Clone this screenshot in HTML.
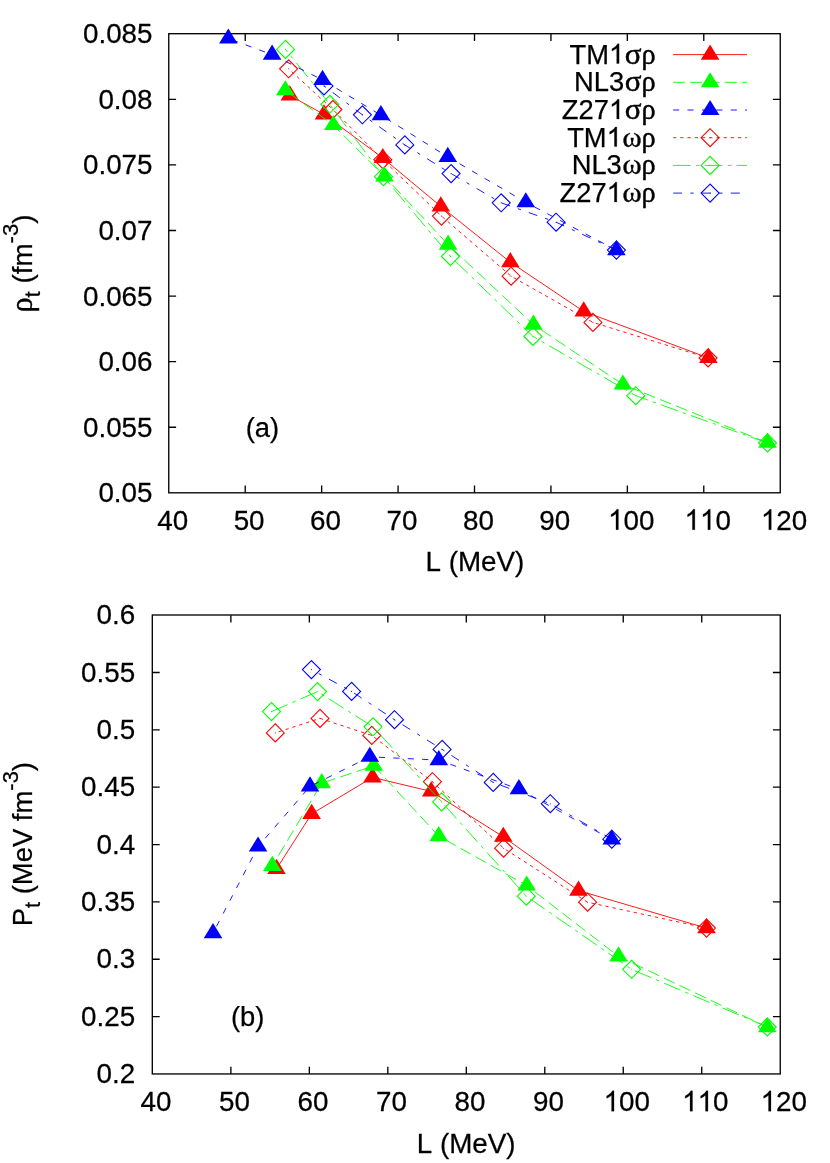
<!DOCTYPE html>
<html><head><meta charset="utf-8"><title>chart</title>
<style>
html,body{margin:0;padding:0;background:#fff;}
svg{display:block;will-change:transform;}
text{font-family:"Liberation Sans",sans-serif;font-size:27.8px;fill:#000;font-kerning:none;stroke:#000;stroke-width:0.25px;}
</style></head>
<body>
<svg width="830" height="1163" viewBox="0 0 830 1163">
<rect x="0" y="0" width="830" height="1163" fill="#fff"/>
<rect x="168.75" y="33.7" width="611.50" height="459.10" fill="none" stroke="#000" stroke-width="1.33"/>
<path d="M245.23,492.8 v-7.3 M245.23,33.8 v7.3" stroke="#000" stroke-width="1.33" fill="none"/>
<path d="M321.65,492.8 v-7.3 M321.65,33.8 v7.3" stroke="#000" stroke-width="1.33" fill="none"/>
<path d="M398.08,492.8 v-7.3 M398.08,33.8 v7.3" stroke="#000" stroke-width="1.33" fill="none"/>
<path d="M474.50,492.8 v-7.3 M474.50,33.8 v7.3" stroke="#000" stroke-width="1.33" fill="none"/>
<path d="M550.93,492.8 v-7.3 M550.93,33.8 v7.3" stroke="#000" stroke-width="1.33" fill="none"/>
<path d="M627.35,492.8 v-7.3 M627.35,33.8 v7.3" stroke="#000" stroke-width="1.33" fill="none"/>
<path d="M703.78,492.8 v-7.3 M703.78,33.8 v7.3" stroke="#000" stroke-width="1.33" fill="none"/>
<path d="M168.8,99.37 h7.3 M780.2,99.37 h-7.3" stroke="#000" stroke-width="1.33" fill="none"/>
<path d="M168.8,164.94 h7.3 M780.2,164.94 h-7.3" stroke="#000" stroke-width="1.33" fill="none"/>
<path d="M168.8,230.51 h7.3 M780.2,230.51 h-7.3" stroke="#000" stroke-width="1.33" fill="none"/>
<path d="M168.8,296.09 h7.3 M780.2,296.09 h-7.3" stroke="#000" stroke-width="1.33" fill="none"/>
<path d="M168.8,361.66 h7.3 M780.2,361.66 h-7.3" stroke="#000" stroke-width="1.33" fill="none"/>
<path d="M168.8,427.23 h7.3 M780.2,427.23 h-7.3" stroke="#000" stroke-width="1.33" fill="none"/>
<g transform="translate(0,43.30) scale(1,1.02)"><text x="152.50" y="0" text-anchor="end" >0.085</text></g>
<g transform="translate(0,108.87) scale(1,1.02)"><text x="152.50" y="0" text-anchor="end" >0.08</text></g>
<g transform="translate(0,174.44) scale(1,1.02)"><text x="152.50" y="0" text-anchor="end" >0.075</text></g>
<g transform="translate(0,240.01) scale(1,1.02)"><text x="152.50" y="0" text-anchor="end" >0.07</text></g>
<g transform="translate(0,305.59) scale(1,1.02)"><text x="152.50" y="0" text-anchor="end" >0.065</text></g>
<g transform="translate(0,371.16) scale(1,1.02)"><text x="152.50" y="0" text-anchor="end" >0.06</text></g>
<g transform="translate(0,436.73) scale(1,1.02)"><text x="152.50" y="0" text-anchor="end" >0.055</text></g>
<g transform="translate(0,502.30) scale(1,1.02)"><text x="152.50" y="0" text-anchor="end" >0.05</text></g>
<g transform="translate(0,529.70) scale(1,1.02)"><text x="172.70" y="0" text-anchor="middle" >40</text></g>
<g transform="translate(0,529.70) scale(1,1.02)"><text x="249.13" y="0" text-anchor="middle" >50</text></g>
<g transform="translate(0,529.70) scale(1,1.02)"><text x="325.55" y="0" text-anchor="middle" >60</text></g>
<g transform="translate(0,529.70) scale(1,1.02)"><text x="401.98" y="0" text-anchor="middle" >70</text></g>
<g transform="translate(0,529.70) scale(1,1.02)"><text x="478.40" y="0" text-anchor="middle" >80</text></g>
<g transform="translate(0,529.70) scale(1,1.02)"><text x="554.83" y="0" text-anchor="middle" >90</text></g>
<g transform="translate(0,529.70) scale(1,1.02)"><path transform="translate(608.06,0) scale(0.01357,-0.01357)" d="M763 0H583V1147Q518 1085 412.5 1023Q307 961 223 930V1104Q374 1175 487 1276Q600 1377 647 1472H763Z" fill="#000" stroke="#000" stroke-width="0.25" vector-effect="non-scaling-stroke"/><text x="623.52" y="0">00</text></g>
<g transform="translate(0,529.70) scale(1,1.02)"><path transform="translate(684.49,0) scale(0.01357,-0.01357)" d="M763 0H583V1147Q518 1085 412.5 1023Q307 961 223 930V1104Q374 1175 487 1276Q600 1377 647 1472H763Z" fill="#000" stroke="#000" stroke-width="0.25" vector-effect="non-scaling-stroke"/><path transform="translate(699.95,0) scale(0.01357,-0.01357)" d="M763 0H583V1147Q518 1085 412.5 1023Q307 961 223 930V1104Q374 1175 487 1276Q600 1377 647 1472H763Z" fill="#000" stroke="#000" stroke-width="0.25" vector-effect="non-scaling-stroke"/><text x="715.40" y="0">0</text></g>
<g transform="translate(0,529.70) scale(1,1.02)"><path transform="translate(760.91,0) scale(0.01357,-0.01357)" d="M763 0H583V1147Q518 1085 412.5 1023Q307 961 223 930V1104Q374 1175 487 1276Q600 1377 647 1472H763Z" fill="#000" stroke="#000" stroke-width="0.25" vector-effect="non-scaling-stroke"/><text x="776.37" y="0">20</text></g>
<g transform="translate(0,571.00) scale(1,1.02)"><text x="474.90" y="0" text-anchor="middle" >L (MeV)</text></g>
<g transform="translate(0,436.70) scale(1,1.0)" style="font-size:27.35px"><text x="245.70" y="0" text-anchor="start" style="font-size:27.35px" >(a)</text></g>
<text transform="translate(32.4,312.6) rotate(-90) scale(1,1.02)" x="0" y="0"><tspan style="font-family:'Liberation Serif',serif;font-size:30.3px;stroke-width:0.45px">ρ</tspan><tspan dy="7" font-size="22.2">t</tspan><tspan dy="-7"> (fm</tspan><tspan dy="-14.5" font-size="22.2">-3</tspan><tspan dy="14.5">)</tspan></text>
<g transform="translate(0,63.50) scale(1,1.0)" style="font-size:27.35px"><text x="569.44" y="0" style="font-size:27.35px">TM</text><path transform="translate(608.93,0) scale(0.01335,-0.01335)" d="M763 0H583V1147Q518 1085 412.5 1023Q307 961 223 930V1104Q374 1175 487 1276Q600 1377 647 1472H763Z" fill="#000" stroke="#000" stroke-width="0.25" vector-effect="non-scaling-stroke"/></g>
<text style="font-family:'Liberation Serif',serif;font-size:30.3px;stroke:#000;stroke-width:0.45px" transform="translate(624.74,63.50) scale(1.026,1)">σ</text>
<text style="font-family:'Liberation Serif',serif;font-size:30.3px;stroke:#000;stroke-width:0.45px" transform="translate(641.50,63.50) scale(0.935,1)">ρ</text>
<polyline points="673.20,54.60 747.00,54.60" fill="none" stroke="#ff0000" stroke-width="0.9"/>
<path d="M710.10,44.52 L700.80,59.65 L719.40,59.65Z" fill="#ff0000"/>
<g transform="translate(0,91.20) scale(1,1.0)" style="font-size:27.35px"><text x="624.14" y="0" text-anchor="end" style="font-size:27.35px" >NL3</text></g>
<text style="font-family:'Liberation Serif',serif;font-size:30.3px;stroke:#000;stroke-width:0.45px" transform="translate(624.74,91.20) scale(1.026,1)">σ</text>
<text style="font-family:'Liberation Serif',serif;font-size:30.3px;stroke:#000;stroke-width:0.45px" transform="translate(641.50,91.20) scale(0.935,1)">ρ</text>
<polyline points="673.20,82.30 747.00,82.30" fill="none" stroke="#00ff00" stroke-width="0.9" stroke-dasharray="11.94,5.37" stroke-dashoffset="0.20"/>
<path d="M710.10,72.22 L700.80,87.35 L719.40,87.35Z" fill="#00ff00"/>
<g transform="translate(0,118.90) scale(1,1.0)" style="font-size:27.35px"><text x="561.81" y="0" style="font-size:27.35px">Z27</text><path transform="translate(608.93,0) scale(0.01335,-0.01335)" d="M763 0H583V1147Q518 1085 412.5 1023Q307 961 223 930V1104Q374 1175 487 1276Q600 1377 647 1472H763Z" fill="#000" stroke="#000" stroke-width="0.25" vector-effect="non-scaling-stroke"/></g>
<text style="font-family:'Liberation Serif',serif;font-size:30.3px;stroke:#000;stroke-width:0.45px" transform="translate(624.74,118.90) scale(1.026,1)">σ</text>
<text style="font-family:'Liberation Serif',serif;font-size:30.3px;stroke:#000;stroke-width:0.45px" transform="translate(641.50,118.90) scale(0.935,1)">ρ</text>
<polyline points="673.20,110.00 747.00,110.00" fill="none" stroke="#0000ff" stroke-width="0.9" stroke-dasharray="6.17,8.26" stroke-dashoffset="0.20"/>
<path d="M710.10,99.92 L700.80,115.05 L719.40,115.05Z" fill="#0000ff"/>
<g transform="translate(0,146.60) scale(1,1.0)" style="font-size:27.35px"><text x="567.13" y="0" style="font-size:27.35px">TM</text><path transform="translate(606.62,0) scale(0.01335,-0.01335)" d="M763 0H583V1147Q518 1085 412.5 1023Q307 961 223 930V1104Q374 1175 487 1276Q600 1377 647 1472H763Z" fill="#000" stroke="#000" stroke-width="0.25" vector-effect="non-scaling-stroke"/></g>
<text style="font-family:'Liberation Serif',serif;font-size:30.3px;stroke:#000;stroke-width:0.45px" transform="translate(622.43,146.60) scale(0.956,1)">ω</text>
<text style="font-family:'Liberation Serif',serif;font-size:30.3px;stroke:#000;stroke-width:0.45px" transform="translate(641.50,146.60) scale(0.935,1)">ρ</text>
<polyline points="673.20,137.70 747.00,137.70" fill="none" stroke="#ff0000" stroke-width="0.9" stroke-dasharray="3.29,3.93" stroke-dashoffset="0.20"/>
<path d="M710.10,128.70 L701.10,137.70 L710.10,146.70 L719.10,137.70Z" fill="none" stroke="#ff0000" stroke-width="1.1"/><circle cx="710.10" cy="137.70" r="0.55" fill="#ff0000"/>
<g transform="translate(0,174.30) scale(1,1.0)" style="font-size:27.35px"><text x="621.83" y="0" text-anchor="end" style="font-size:27.35px" >NL3</text></g>
<text style="font-family:'Liberation Serif',serif;font-size:30.3px;stroke:#000;stroke-width:0.45px" transform="translate(622.43,174.30) scale(0.956,1)">ω</text>
<text style="font-family:'Liberation Serif',serif;font-size:30.3px;stroke:#000;stroke-width:0.45px" transform="translate(641.50,174.30) scale(0.935,1)">ρ</text>
<polyline points="673.20,165.40 747.00,165.40" fill="none" stroke="#00ff00" stroke-width="0.9" stroke-dasharray="17.72,5.37,3.29,5.37" stroke-dashoffset="0.20"/>
<path d="M710.10,156.40 L701.10,165.40 L710.10,174.40 L719.10,165.40Z" fill="none" stroke="#00ff00" stroke-width="1.1"/><circle cx="710.10" cy="165.40" r="0.55" fill="#00ff00"/>
<g transform="translate(0,202.00) scale(1,1.0)" style="font-size:27.35px"><text x="559.50" y="0" style="font-size:27.35px">Z27</text><path transform="translate(606.62,0) scale(0.01335,-0.01335)" d="M763 0H583V1147Q518 1085 412.5 1023Q307 961 223 930V1104Q374 1175 487 1276Q600 1377 647 1472H763Z" fill="#000" stroke="#000" stroke-width="0.25" vector-effect="non-scaling-stroke"/></g>
<text style="font-family:'Liberation Serif',serif;font-size:30.3px;stroke:#000;stroke-width:0.45px" transform="translate(622.43,202.00) scale(0.956,1)">ω</text>
<text style="font-family:'Liberation Serif',serif;font-size:30.3px;stroke:#000;stroke-width:0.45px" transform="translate(641.50,202.00) scale(0.935,1)">ρ</text>
<polyline points="673.20,193.10 747.00,193.10" fill="none" stroke="#0000ff" stroke-width="0.9" stroke-dasharray="9.06,8.26,3.29,8.26" stroke-dashoffset="0.20"/>
<path d="M710.10,184.10 L701.10,193.10 L710.10,202.10 L719.10,193.10Z" fill="none" stroke="#0000ff" stroke-width="1.1"/><circle cx="710.10" cy="193.10" r="0.55" fill="#0000ff"/>
<polyline points="289.80,95.40 324.00,114.40 382.80,158.00 440.80,206.40 510.30,262.20 583.70,311.40 708.40,357.90" fill="none" stroke="#ff0000" stroke-width="0.9"/>
<path d="M289.80,85.32 L280.50,100.45 L299.10,100.45Z" fill="#ff0000"/>
<path d="M324.00,104.32 L314.70,119.45 L333.30,119.45Z" fill="#ff0000"/>
<path d="M382.80,147.92 L373.50,163.05 L392.10,163.05Z" fill="#ff0000"/>
<path d="M440.80,196.32 L431.50,211.45 L450.10,211.45Z" fill="#ff0000"/>
<path d="M510.30,252.12 L501.00,267.25 L519.60,267.25Z" fill="#ff0000"/>
<path d="M583.70,301.32 L574.40,316.45 L593.00,316.45Z" fill="#ff0000"/>
<path d="M708.40,347.82 L699.10,362.95 L717.70,362.95Z" fill="#ff0000"/>
<polyline points="288.60,68.80 332.90,109.50 382.80,159.70 441.50,216.10 511.10,276.20 592.90,322.40 708.10,358.00" fill="none" stroke="#ff0000" stroke-width="0.9" stroke-dasharray="3.29,3.93" stroke-dashoffset="3.12"/>
<path d="M288.60,59.80 L279.60,68.80 L288.60,77.80 L297.60,68.80Z" fill="none" stroke="#ff0000" stroke-width="1.1"/><circle cx="288.60" cy="68.80" r="0.55" fill="#ff0000"/>
<path d="M332.90,100.50 L323.90,109.50 L332.90,118.50 L341.90,109.50Z" fill="none" stroke="#ff0000" stroke-width="1.1"/><circle cx="332.90" cy="109.50" r="0.55" fill="#ff0000"/>
<path d="M382.80,150.70 L373.80,159.70 L382.80,168.70 L391.80,159.70Z" fill="none" stroke="#ff0000" stroke-width="1.1"/><circle cx="382.80" cy="159.70" r="0.55" fill="#ff0000"/>
<path d="M441.50,207.10 L432.50,216.10 L441.50,225.10 L450.50,216.10Z" fill="none" stroke="#ff0000" stroke-width="1.1"/><circle cx="441.50" cy="216.10" r="0.55" fill="#ff0000"/>
<path d="M511.10,267.20 L502.10,276.20 L511.10,285.20 L520.10,276.20Z" fill="none" stroke="#ff0000" stroke-width="1.1"/><circle cx="511.10" cy="276.20" r="0.55" fill="#ff0000"/>
<path d="M592.90,313.40 L583.90,322.40 L592.90,331.40 L601.90,322.40Z" fill="none" stroke="#ff0000" stroke-width="1.1"/><circle cx="592.90" cy="322.40" r="0.55" fill="#ff0000"/>
<path d="M708.10,349.00 L699.10,358.00 L708.10,367.00 L717.10,358.00Z" fill="none" stroke="#ff0000" stroke-width="1.1"/><circle cx="708.10" cy="358.00" r="0.55" fill="#ff0000"/>
<polyline points="285.30,90.30 333.30,125.00 384.50,176.40 448.10,244.70 533.40,324.60 622.90,384.50 767.50,442.70" fill="none" stroke="#00ff00" stroke-width="0.9" stroke-dasharray="11.94,5.37" stroke-dashoffset="12.22"/>
<path d="M285.30,80.22 L276.00,95.35 L294.60,95.35Z" fill="#00ff00"/>
<path d="M333.30,114.92 L324.00,130.05 L342.60,130.05Z" fill="#00ff00"/>
<path d="M384.50,166.32 L375.20,181.45 L393.80,181.45Z" fill="#00ff00"/>
<path d="M448.10,234.62 L438.80,249.75 L457.40,249.75Z" fill="#00ff00"/>
<path d="M533.40,314.52 L524.10,329.65 L542.70,329.65Z" fill="#00ff00"/>
<path d="M622.90,374.42 L613.60,389.55 L632.20,389.55Z" fill="#00ff00"/>
<path d="M767.50,432.62 L758.20,447.75 L776.80,447.75Z" fill="#00ff00"/>
<polyline points="285.50,49.40 329.80,104.30 383.50,176.70 450.40,256.40 532.90,336.40 635.80,395.70 767.50,443.00" fill="none" stroke="#00ff00" stroke-width="0.9" stroke-dasharray="17.72,5.37,3.29,5.37" stroke-dashoffset="14.44"/>
<path d="M285.50,40.40 L276.50,49.40 L285.50,58.40 L294.50,49.40Z" fill="none" stroke="#00ff00" stroke-width="1.1"/><circle cx="285.50" cy="49.40" r="0.55" fill="#00ff00"/>
<path d="M329.80,95.30 L320.80,104.30 L329.80,113.30 L338.80,104.30Z" fill="none" stroke="#00ff00" stroke-width="1.1"/><circle cx="329.80" cy="104.30" r="0.55" fill="#00ff00"/>
<path d="M383.50,167.70 L374.50,176.70 L383.50,185.70 L392.50,176.70Z" fill="none" stroke="#00ff00" stroke-width="1.1"/><circle cx="383.50" cy="176.70" r="0.55" fill="#00ff00"/>
<path d="M450.40,247.40 L441.40,256.40 L450.40,265.40 L459.40,256.40Z" fill="none" stroke="#00ff00" stroke-width="1.1"/><circle cx="450.40" cy="256.40" r="0.55" fill="#00ff00"/>
<path d="M532.90,327.40 L523.90,336.40 L532.90,345.40 L541.90,336.40Z" fill="none" stroke="#00ff00" stroke-width="1.1"/><circle cx="532.90" cy="336.40" r="0.55" fill="#00ff00"/>
<path d="M635.80,386.70 L626.80,395.70 L635.80,404.70 L644.80,395.70Z" fill="none" stroke="#00ff00" stroke-width="1.1"/><circle cx="635.80" cy="395.70" r="0.55" fill="#00ff00"/>
<path d="M767.50,434.00 L758.50,443.00 L767.50,452.00 L776.50,443.00Z" fill="none" stroke="#00ff00" stroke-width="1.1"/><circle cx="767.50" cy="443.00" r="0.55" fill="#00ff00"/>
<polyline points="228.30,38.50 272.10,54.60 322.50,79.90 380.90,115.20 447.80,156.90 525.80,202.30 616.40,250.20" fill="none" stroke="#0000ff" stroke-width="0.9" stroke-dasharray="6.17,8.26" stroke-dashoffset="10.41"/>
<path d="M228.30,28.42 L219.00,43.55 L237.60,43.55Z" fill="#0000ff"/>
<path d="M272.10,44.52 L262.80,59.65 L281.40,59.65Z" fill="#0000ff"/>
<path d="M322.50,69.82 L313.20,84.95 L331.80,84.95Z" fill="#0000ff"/>
<path d="M380.90,105.12 L371.60,120.25 L390.20,120.25Z" fill="#0000ff"/>
<path d="M447.80,146.82 L438.50,161.95 L457.10,161.95Z" fill="#0000ff"/>
<path d="M525.80,192.22 L516.50,207.35 L535.10,207.35Z" fill="#0000ff"/>
<path d="M616.40,240.12 L607.10,255.25 L625.70,255.25Z" fill="#0000ff"/>
<polyline points="324.00,85.90 362.40,114.80 404.80,144.90 451.10,173.60 501.20,202.80 556.10,222.20 616.40,250.10" fill="none" stroke="#0000ff" stroke-width="0.9" stroke-dasharray="9.06,8.26,3.29,8.26" stroke-dashoffset="18.09"/>
<path d="M324.00,76.90 L315.00,85.90 L324.00,94.90 L333.00,85.90Z" fill="none" stroke="#0000ff" stroke-width="1.1"/><circle cx="324.00" cy="85.90" r="0.55" fill="#0000ff"/>
<path d="M362.40,105.80 L353.40,114.80 L362.40,123.80 L371.40,114.80Z" fill="none" stroke="#0000ff" stroke-width="1.1"/><circle cx="362.40" cy="114.80" r="0.55" fill="#0000ff"/>
<path d="M404.80,135.90 L395.80,144.90 L404.80,153.90 L413.80,144.90Z" fill="none" stroke="#0000ff" stroke-width="1.1"/><circle cx="404.80" cy="144.90" r="0.55" fill="#0000ff"/>
<path d="M451.10,164.60 L442.10,173.60 L451.10,182.60 L460.10,173.60Z" fill="none" stroke="#0000ff" stroke-width="1.1"/><circle cx="451.10" cy="173.60" r="0.55" fill="#0000ff"/>
<path d="M501.20,193.80 L492.20,202.80 L501.20,211.80 L510.20,202.80Z" fill="none" stroke="#0000ff" stroke-width="1.1"/><circle cx="501.20" cy="202.80" r="0.55" fill="#0000ff"/>
<path d="M556.10,213.20 L547.10,222.20 L556.10,231.20 L565.10,222.20Z" fill="none" stroke="#0000ff" stroke-width="1.1"/><circle cx="556.10" cy="222.20" r="0.55" fill="#0000ff"/>
<path d="M616.40,241.10 L607.40,250.10 L616.40,259.10 L625.40,250.10Z" fill="none" stroke="#0000ff" stroke-width="1.1"/><circle cx="616.40" cy="250.10" r="0.55" fill="#0000ff"/>
<rect x="152.3" y="615.0" width="627.95" height="458.95" fill="none" stroke="#000" stroke-width="1.33"/>
<path d="M230.88,1073.95 v-7.3 M230.88,615.15 v7.3" stroke="#000" stroke-width="1.33" fill="none"/>
<path d="M309.35,1073.95 v-7.3 M309.35,615.15 v7.3" stroke="#000" stroke-width="1.33" fill="none"/>
<path d="M387.83,1073.95 v-7.3 M387.83,615.15 v7.3" stroke="#000" stroke-width="1.33" fill="none"/>
<path d="M466.30,1073.95 v-7.3 M466.30,615.15 v7.3" stroke="#000" stroke-width="1.33" fill="none"/>
<path d="M544.78,1073.95 v-7.3 M544.78,615.15 v7.3" stroke="#000" stroke-width="1.33" fill="none"/>
<path d="M623.25,1073.95 v-7.3 M623.25,615.15 v7.3" stroke="#000" stroke-width="1.33" fill="none"/>
<path d="M701.73,1073.95 v-7.3 M701.73,615.15 v7.3" stroke="#000" stroke-width="1.33" fill="none"/>
<path d="M152.4,672.50 h7.3 M780.2,672.50 h-7.3" stroke="#000" stroke-width="1.33" fill="none"/>
<path d="M152.4,729.85 h7.3 M780.2,729.85 h-7.3" stroke="#000" stroke-width="1.33" fill="none"/>
<path d="M152.4,787.20 h7.3 M780.2,787.20 h-7.3" stroke="#000" stroke-width="1.33" fill="none"/>
<path d="M152.4,844.55 h7.3 M780.2,844.55 h-7.3" stroke="#000" stroke-width="1.33" fill="none"/>
<path d="M152.4,901.90 h7.3 M780.2,901.90 h-7.3" stroke="#000" stroke-width="1.33" fill="none"/>
<path d="M152.4,959.25 h7.3 M780.2,959.25 h-7.3" stroke="#000" stroke-width="1.33" fill="none"/>
<path d="M152.4,1016.60 h7.3 M780.2,1016.60 h-7.3" stroke="#000" stroke-width="1.33" fill="none"/>
<g transform="translate(0,624.15) scale(1,1.02)"><text x="135.10" y="0" text-anchor="end" >0.6</text></g>
<g transform="translate(0,681.50) scale(1,1.02)"><text x="135.10" y="0" text-anchor="end" >0.55</text></g>
<g transform="translate(0,738.85) scale(1,1.02)"><text x="135.10" y="0" text-anchor="end" >0.5</text></g>
<g transform="translate(0,796.20) scale(1,1.02)"><text x="135.10" y="0" text-anchor="end" >0.45</text></g>
<g transform="translate(0,853.55) scale(1,1.02)"><text x="135.10" y="0" text-anchor="end" >0.4</text></g>
<g transform="translate(0,910.90) scale(1,1.02)"><text x="135.10" y="0" text-anchor="end" >0.35</text></g>
<g transform="translate(0,968.25) scale(1,1.02)"><text x="135.10" y="0" text-anchor="end" >0.3</text></g>
<g transform="translate(0,1025.60) scale(1,1.02)"><text x="135.10" y="0" text-anchor="end" >0.25</text></g>
<g transform="translate(0,1082.95) scale(1,1.02)"><text x="135.10" y="0" text-anchor="end" >0.2</text></g>
<g transform="translate(0,1111.20) scale(1,1.02)"><text x="156.00" y="0" text-anchor="middle" >40</text></g>
<g transform="translate(0,1111.20) scale(1,1.02)"><text x="234.47" y="0" text-anchor="middle" >50</text></g>
<g transform="translate(0,1111.20) scale(1,1.02)"><text x="312.95" y="0" text-anchor="middle" >60</text></g>
<g transform="translate(0,1111.20) scale(1,1.02)"><text x="391.43" y="0" text-anchor="middle" >70</text></g>
<g transform="translate(0,1111.20) scale(1,1.02)"><text x="469.90" y="0" text-anchor="middle" >80</text></g>
<g transform="translate(0,1111.20) scale(1,1.02)"><text x="548.38" y="0" text-anchor="middle" >90</text></g>
<g transform="translate(0,1111.20) scale(1,1.02)"><path transform="translate(603.66,0) scale(0.01357,-0.01357)" d="M763 0H583V1147Q518 1085 412.5 1023Q307 961 223 930V1104Q374 1175 487 1276Q600 1377 647 1472H763Z" fill="#000" stroke="#000" stroke-width="0.25" vector-effect="non-scaling-stroke"/><text x="619.12" y="0">00</text></g>
<g transform="translate(0,1111.20) scale(1,1.02)"><path transform="translate(682.14,0) scale(0.01357,-0.01357)" d="M763 0H583V1147Q518 1085 412.5 1023Q307 961 223 930V1104Q374 1175 487 1276Q600 1377 647 1472H763Z" fill="#000" stroke="#000" stroke-width="0.25" vector-effect="non-scaling-stroke"/><path transform="translate(697.60,0) scale(0.01357,-0.01357)" d="M763 0H583V1147Q518 1085 412.5 1023Q307 961 223 930V1104Q374 1175 487 1276Q600 1377 647 1472H763Z" fill="#000" stroke="#000" stroke-width="0.25" vector-effect="non-scaling-stroke"/><text x="713.05" y="0">0</text></g>
<g transform="translate(0,1111.20) scale(1,1.02)"><path transform="translate(760.61,0) scale(0.01357,-0.01357)" d="M763 0H583V1147Q518 1085 412.5 1023Q307 961 223 930V1104Q374 1175 487 1276Q600 1377 647 1472H763Z" fill="#000" stroke="#000" stroke-width="0.25" vector-effect="non-scaling-stroke"/><text x="776.07" y="0">20</text></g>
<g transform="translate(0,1152.50) scale(1,1.02)"><text x="466.20" y="0" text-anchor="middle" >L (MeV)</text></g>
<g transform="translate(0,1025.90) scale(1,1.0)" style="font-size:27.35px"><text x="230.90" y="0" text-anchor="start" style="font-size:27.35px" >(b)</text></g>
<text transform="translate(32.4,926.3) rotate(-90) scale(0.987,1.02)" x="0" y="0">P<tspan dy="7" font-size="22.2">t</tspan><tspan dy="-7"> (MeV fm</tspan><tspan dy="-14.5" font-size="22.2">-3</tspan><tspan dy="14.5">)</tspan></text>
<polyline points="276.50,868.90 311.60,813.90 372.50,777.40 431.20,791.40 503.30,836.80 578.50,890.60 706.50,928.10" fill="none" stroke="#ff0000" stroke-width="0.9"/>
<path d="M276.50,858.82 L267.20,873.95 L285.80,873.95Z" fill="#ff0000"/>
<path d="M311.60,803.82 L302.30,818.95 L320.90,818.95Z" fill="#ff0000"/>
<path d="M372.50,767.32 L363.20,782.45 L381.80,782.45Z" fill="#ff0000"/>
<path d="M431.20,781.32 L421.90,796.45 L440.50,796.45Z" fill="#ff0000"/>
<path d="M503.30,826.72 L494.00,841.85 L512.60,841.85Z" fill="#ff0000"/>
<path d="M578.50,880.52 L569.20,895.65 L587.80,895.65Z" fill="#ff0000"/>
<path d="M706.50,918.02 L697.20,933.15 L715.80,933.15Z" fill="#ff0000"/>
<polyline points="275.30,732.90 320.00,718.40 371.80,735.40 432.40,781.70 503.60,848.20 587.60,902.20 706.50,928.10" fill="none" stroke="#ff0000" stroke-width="0.9" stroke-dasharray="3.29,3.93" stroke-dashoffset="3.75"/>
<path d="M275.30,723.90 L266.30,732.90 L275.30,741.90 L284.30,732.90Z" fill="none" stroke="#ff0000" stroke-width="1.1"/><circle cx="275.30" cy="732.90" r="0.55" fill="#ff0000"/>
<path d="M320.00,709.40 L311.00,718.40 L320.00,727.40 L329.00,718.40Z" fill="none" stroke="#ff0000" stroke-width="1.1"/><circle cx="320.00" cy="718.40" r="0.55" fill="#ff0000"/>
<path d="M371.80,726.40 L362.80,735.40 L371.80,744.40 L380.80,735.40Z" fill="none" stroke="#ff0000" stroke-width="1.1"/><circle cx="371.80" cy="735.40" r="0.55" fill="#ff0000"/>
<path d="M432.40,772.70 L423.40,781.70 L432.40,790.70 L441.40,781.70Z" fill="none" stroke="#ff0000" stroke-width="1.1"/><circle cx="432.40" cy="781.70" r="0.55" fill="#ff0000"/>
<path d="M503.60,839.20 L494.60,848.20 L503.60,857.20 L512.60,848.20Z" fill="none" stroke="#ff0000" stroke-width="1.1"/><circle cx="503.60" cy="848.20" r="0.55" fill="#ff0000"/>
<path d="M587.60,893.20 L578.60,902.20 L587.60,911.20 L596.60,902.20Z" fill="none" stroke="#ff0000" stroke-width="1.1"/><circle cx="587.60" cy="902.20" r="0.55" fill="#ff0000"/>
<path d="M706.50,919.10 L697.50,928.10 L706.50,937.10 L715.50,928.10Z" fill="none" stroke="#ff0000" stroke-width="1.1"/><circle cx="706.50" cy="928.10" r="0.55" fill="#ff0000"/>
<polyline points="272.30,865.90 321.70,783.20 373.70,765.80 438.70,836.10 526.70,885.50 618.50,956.40 767.30,1027.20" fill="none" stroke="#00ff00" stroke-width="0.9" stroke-dasharray="11.94,5.37" stroke-dashoffset="5.22"/>
<path d="M272.30,855.82 L263.00,870.95 L281.60,870.95Z" fill="#00ff00"/>
<path d="M321.70,773.12 L312.40,788.25 L331.00,788.25Z" fill="#00ff00"/>
<path d="M373.70,755.72 L364.40,770.85 L383.00,770.85Z" fill="#00ff00"/>
<path d="M438.70,826.02 L429.40,841.15 L448.00,841.15Z" fill="#00ff00"/>
<path d="M526.70,875.42 L517.40,890.55 L536.00,890.55Z" fill="#00ff00"/>
<path d="M618.50,946.32 L609.20,961.45 L627.80,961.45Z" fill="#00ff00"/>
<path d="M767.30,1017.12 L758.00,1032.25 L776.60,1032.25Z" fill="#00ff00"/>
<polyline points="271.50,711.60 317.50,691.60 373.00,726.80 441.60,801.90 526.30,896.20 631.60,969.30 767.30,1027.00" fill="none" stroke="#00ff00" stroke-width="0.9" stroke-dasharray="17.72,5.37,3.29,5.37" stroke-dashoffset="0.20"/>
<path d="M271.50,702.60 L262.50,711.60 L271.50,720.60 L280.50,711.60Z" fill="none" stroke="#00ff00" stroke-width="1.1"/><circle cx="271.50" cy="711.60" r="0.55" fill="#00ff00"/>
<path d="M317.50,682.60 L308.50,691.60 L317.50,700.60 L326.50,691.60Z" fill="none" stroke="#00ff00" stroke-width="1.1"/><circle cx="317.50" cy="691.60" r="0.55" fill="#00ff00"/>
<path d="M373.00,717.80 L364.00,726.80 L373.00,735.80 L382.00,726.80Z" fill="none" stroke="#00ff00" stroke-width="1.1"/><circle cx="373.00" cy="726.80" r="0.55" fill="#00ff00"/>
<path d="M441.60,792.90 L432.60,801.90 L441.60,810.90 L450.60,801.90Z" fill="none" stroke="#00ff00" stroke-width="1.1"/><circle cx="441.60" cy="801.90" r="0.55" fill="#00ff00"/>
<path d="M526.30,887.20 L517.30,896.20 L526.30,905.20 L535.30,896.20Z" fill="none" stroke="#00ff00" stroke-width="1.1"/><circle cx="526.30" cy="896.20" r="0.55" fill="#00ff00"/>
<path d="M631.60,960.30 L622.60,969.30 L631.60,978.30 L640.60,969.30Z" fill="none" stroke="#00ff00" stroke-width="1.1"/><circle cx="631.60" cy="969.30" r="0.55" fill="#00ff00"/>
<path d="M767.30,1018.00 L758.30,1027.00 L767.30,1036.00 L776.30,1027.00Z" fill="none" stroke="#00ff00" stroke-width="1.1"/><circle cx="767.30" cy="1027.00" r="0.55" fill="#00ff00"/>
<polyline points="213.00,933.10 258.10,846.50 310.00,786.40 369.80,756.80 438.80,760.10 518.90,789.20 611.80,839.50" fill="none" stroke="#0000ff" stroke-width="0.9" stroke-dasharray="6.17,8.26" stroke-dashoffset="6.86"/>
<path d="M213.00,923.02 L203.70,938.15 L222.30,938.15Z" fill="#0000ff"/>
<path d="M258.10,836.42 L248.80,851.55 L267.40,851.55Z" fill="#0000ff"/>
<path d="M310.00,776.32 L300.70,791.45 L319.30,791.45Z" fill="#0000ff"/>
<path d="M369.80,746.72 L360.50,761.85 L379.10,761.85Z" fill="#0000ff"/>
<path d="M438.80,750.02 L429.50,765.15 L448.10,765.15Z" fill="#0000ff"/>
<path d="M518.90,779.12 L509.60,794.25 L528.20,794.25Z" fill="#0000ff"/>
<path d="M611.80,829.42 L602.50,844.55 L621.10,844.55Z" fill="#0000ff"/>
<polyline points="311.40,669.60 351.60,691.40 394.50,719.70 442.10,749.40 493.20,782.40 550.30,803.70 611.80,839.20" fill="none" stroke="#0000ff" stroke-width="0.9" stroke-dasharray="9.06,8.26,3.29,8.26" stroke-dashoffset="8.96"/>
<path d="M311.40,660.60 L302.40,669.60 L311.40,678.60 L320.40,669.60Z" fill="none" stroke="#0000ff" stroke-width="1.1"/><circle cx="311.40" cy="669.60" r="0.55" fill="#0000ff"/>
<path d="M351.60,682.40 L342.60,691.40 L351.60,700.40 L360.60,691.40Z" fill="none" stroke="#0000ff" stroke-width="1.1"/><circle cx="351.60" cy="691.40" r="0.55" fill="#0000ff"/>
<path d="M394.50,710.70 L385.50,719.70 L394.50,728.70 L403.50,719.70Z" fill="none" stroke="#0000ff" stroke-width="1.1"/><circle cx="394.50" cy="719.70" r="0.55" fill="#0000ff"/>
<path d="M442.10,740.40 L433.10,749.40 L442.10,758.40 L451.10,749.40Z" fill="none" stroke="#0000ff" stroke-width="1.1"/><circle cx="442.10" cy="749.40" r="0.55" fill="#0000ff"/>
<path d="M493.20,773.40 L484.20,782.40 L493.20,791.40 L502.20,782.40Z" fill="none" stroke="#0000ff" stroke-width="1.1"/><circle cx="493.20" cy="782.40" r="0.55" fill="#0000ff"/>
<path d="M550.30,794.70 L541.30,803.70 L550.30,812.70 L559.30,803.70Z" fill="none" stroke="#0000ff" stroke-width="1.1"/><circle cx="550.30" cy="803.70" r="0.55" fill="#0000ff"/>
<path d="M611.80,830.20 L602.80,839.20 L611.80,848.20 L620.80,839.20Z" fill="none" stroke="#0000ff" stroke-width="1.1"/><circle cx="611.80" cy="839.20" r="0.55" fill="#0000ff"/>
</svg>
</body></html>
